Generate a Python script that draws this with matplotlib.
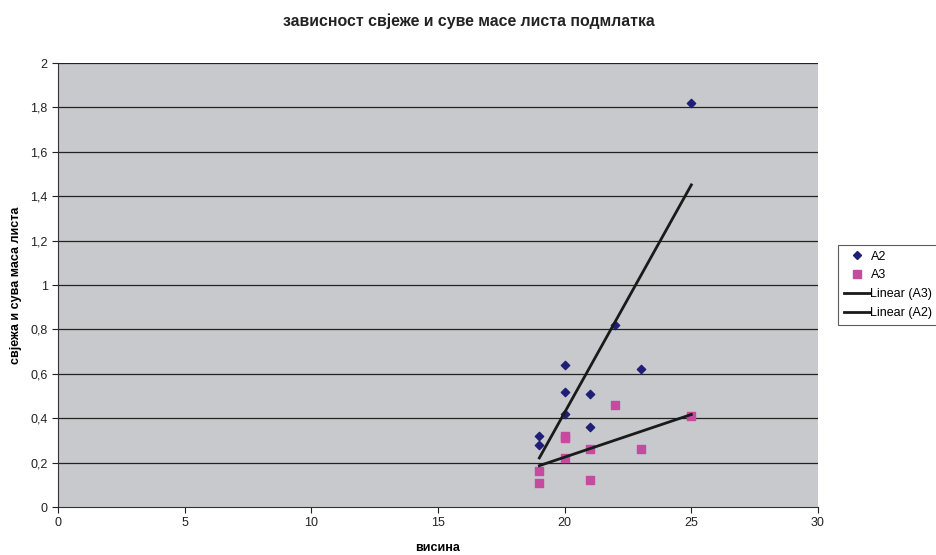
import numpy as np
import matplotlib.pyplot as plt
from matplotlib.lines import Line2D

plt.rcParams['font.family'] = ['Liberation Sans', 'DejaVu Sans']

# висина / маса листа, две серије
a2_x = [19, 19, 20, 20, 20, 21, 21, 22, 23, 25]
a2_y = [0.32, 0.28, 0.64, 0.52, 0.42, 0.51, 0.36, 0.82, 0.62, 1.82]
a3_x = [19, 19, 20, 20, 20, 21, 21, 22, 23, 25]
a3_y = [0.16, 0.11, 0.32, 0.31, 0.22, 0.26, 0.12, 0.46, 0.26, 0.41]

x_ticks = [0, 5, 10, 15, 20, 25, 30]
y_ticks = [0, 0.2, 0.4, 0.6, 0.8, 1, 1.2, 1.4, 1.6, 1.8, 2]
y_labels = ["0", "0,2", "0,4", "0,6", "0,8", "1", "1,2", "1,4", "1,6", "1,8", "2"]

W, H = 937, 555
fig = plt.figure(figsize=(W / 100, H / 100), dpi=100)
ax = fig.add_axes([58 / W, 1 - 507 / H, (818 - 58) / W, (507 - 63) / H])
ax.set_facecolor("#c8c9cc")

for v in y_ticks[1:]:
    ax.axhline(v, color="#222222", lw=0.9, zorder=1)

ax.scatter(a2_x, a2_y, marker="D", s=18, color="#1f1f78", zorder=3)
ax.scatter(a3_x, a3_y, marker="s", s=34, color="#c64b9f", zorder=3)

# линеарни трендови
def trend(xs, ys):
    k, n = np.polyfit(xs, ys, 1)
    xx = np.array([min(xs), max(xs)])
    return xx, k * xx + n

tx, ty = trend(a3_x, a3_y)
ax.plot(tx, ty, color="#1a1a1a", lw=2, zorder=4)
tx, ty = trend(a2_x, a2_y)
ax.plot(tx, ty, color="#1a1a1a", lw=2, zorder=4)

ax.set_xlim(0, 30)
ax.set_ylim(0, 2)
ax.set_xticks(x_ticks)
ax.set_yticks(y_ticks)
ax.set_yticklabels(y_labels)
ax.tick_params(labelsize=9, length=4, direction="out", width=0.8, colors="#222222")
for s in ["top", "right"]:
    ax.spines[s].set_visible(False)
for s in ["left", "bottom"]:
    ax.spines[s].set_color("#333333")

ax.set_xlabel("висина", fontsize=9, fontweight="bold", labelpad=9)
ax.set_ylabel("свјежа и сува маса листа", fontsize=9, fontweight="bold", labelpad=6)
fig.text(0.5, 1 - 21 / H, "зависност свјеже и суве масе листа подмлатка",
         ha="center", va="center", fontsize=11.4, fontweight="bold", color="#222222")

handles = [
    Line2D([], [], ls="none", marker="D", ms=4, color="#1f1f78"),
    Line2D([], [], ls="none", marker="s", ms=6, color="#c64b9f"),
    Line2D([], [], color="#1a1a1a", lw=2),
    Line2D([], [], color="#1a1a1a", lw=2),
]
leg = fig.legend(handles, ["A2", "A3", "Linear (A3)", "Linear (A2)"],
                 loc="upper left", bbox_to_anchor=(838 / W, 1 - 245 / H),
                 fontsize=9, frameon=True, fancybox=False, borderpad=0.45,
                 handlelength=2.1, handletextpad=0.05, labelspacing=0.55,
                 borderaxespad=0)
leg.get_frame().set_edgecolor("#333333")
leg.get_frame().set_linewidth(0.8)

fig.savefig("out.png", dpi=100, facecolor="white")
